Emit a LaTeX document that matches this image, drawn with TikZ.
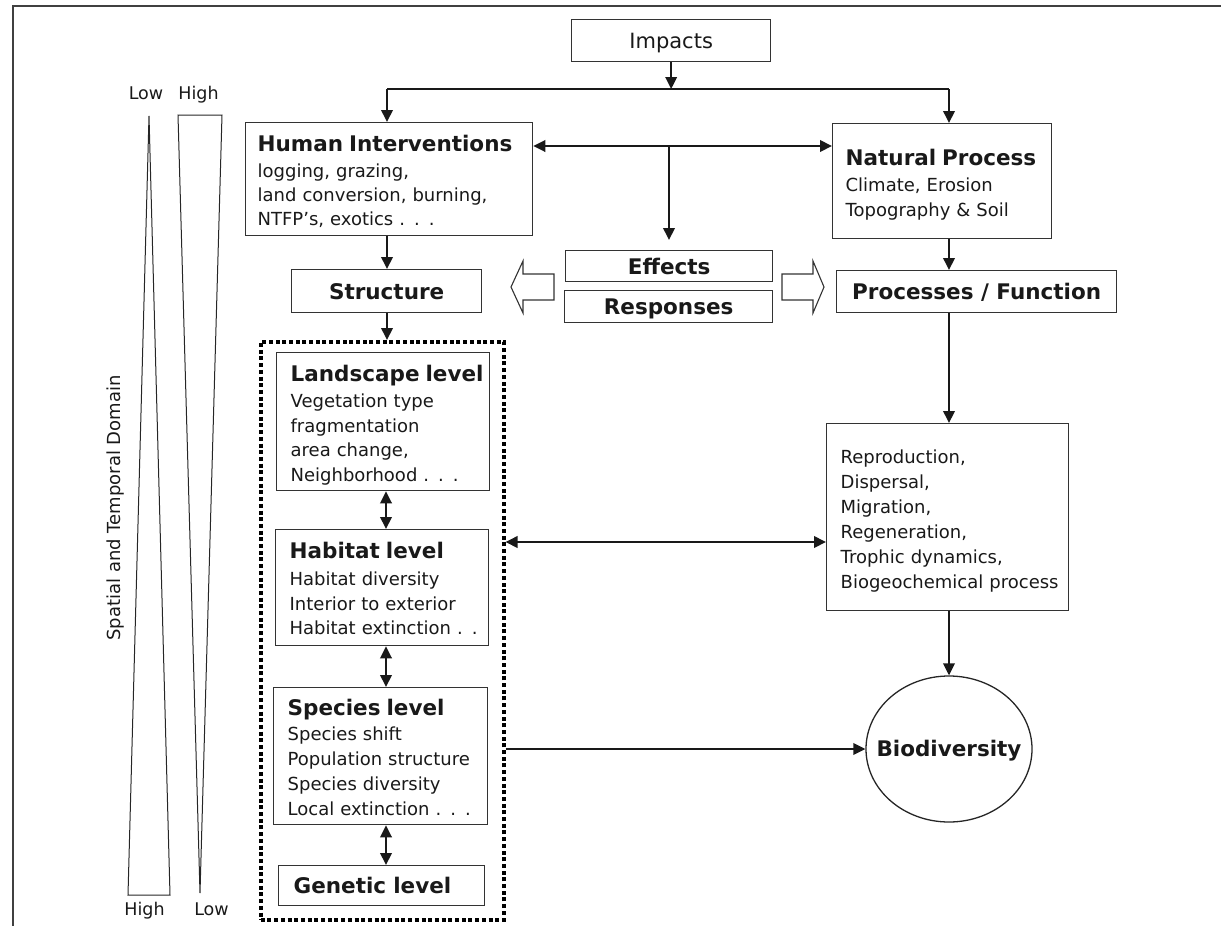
\documentclass[tikz,border=0pt]{standalone}
\usepackage{fontspec}
\setmainfont{DejaVu Sans}
\usetikzlibrary{arrows.meta,shapes.geometric}
\newcommand\ttlf{\fontsize{21.5}{26}\selectfont\bfseries}
\newcommand\bdyf[1]{\fontsize{18}{#1}\selectfont}
\newcommand\repf{\fontsize{18}{25}\selectfont}
\begin{document}
\begin{tikzpicture}[x=1pt,y=-1pt,
  every node/.style={text=black!90},
  box/.style={draw=black!80, line width=1.3pt, rectangle, inner ysep=0pt, anchor=north west},
  mbox/.style={box, align=left},
  sbox/.style={box, inner xsep=0pt, text height=15.7pt, text depth=0pt, font=\ttlf},
  dotbox/.style={draw=black, line width=3.5pt, dash pattern=on 4pt off 2.7pt, rectangle, inner sep=0pt, anchor=north west},
  ln/.style={draw=black!90, line width=2pt},
  arr/.style={ln, -{Triangle[length=12pt,width=11.5pt]}},
  darr/.style={ln, {Triangle[length=12pt,width=11.5pt]}-{Triangle[length=12pt,width=11.5pt]}},
  hollow/.style={draw=black!80, line width=1.1pt, fill=white, line join=miter},
  wedge/.style={draw=black!85, line width=1pt},
  lbl/.style={font=\fontsize{17.5}{20}\selectfont, text height=12.8pt, text depth=0pt, inner sep=0pt},
  frame/.style={draw=black!75, line width=1.5pt}
]
\useasboundingbox (0,0) rectangle (1221,926);
\draw[frame] (1221,6) -- (13,6) -- (13,926);

% left scale
\draw[wedge] (149,116) -- (128,895) -- (170,895) -- cycle;
\draw[wedge] (178,115) -- (222,115) -- (200,893) -- cycle;
\node[lbl] (lowt) at (146,93) {Low};
\node[lbl] (hight) at (198.5,93) {High};
\node[lbl] (highb) at (144.5,909) {High};
\node[lbl] (lowb) at (211.5,909) {Low};
\node[rotate=90, font=\fontsize{18}{20}\selectfont, inner sep=0pt] (dom) at (116,508) {Spatial and Temporal Domain};

% boxes
\node[box, inner xsep=0pt, minimum width=199pt, text height=15.3pt, text depth=0pt,
      font=\fontsize{21}{24}\selectfont, minimum height=42pt] (imp) at (571,19) {Impacts};

\node[mbox, inner xsep=12pt, text width=263pt, text height=29pt, text depth=84pt,
      font=\bdyf{24}] (hum) at (245,122)
  {\mbox{\ttlf Human Interventions}\\[2pt]
   \mbox{logging, grazing,}\\
   \mbox{land conversion, burning,}\\
   \mbox{NTFP’s, exotics . . .}};

\node[mbox, inner xsep=13pt, text width=193pt, text height=42pt, text depth=73pt,
      font=\bdyf{25}] (nat) at (832,123)
  {\mbox{\ttlf Natural Process}\\[1pt]
   \mbox{Climate, Erosion}\\
   \mbox{Topography \& Soil}};

\node[sbox, minimum width=207pt, minimum height=31pt] (eff) at (565,250) {Effects};
\node[sbox, minimum width=208pt, minimum height=32pt] (resp) at (564,290) {Responses};
\node[sbox, minimum width=190pt, minimum height=43pt] (str) at (291,269) {Structure};
\node[sbox, minimum width=280pt, minimum height=42pt] (proc) at (836,270) {Processes / Function};

\node[dotbox, minimum width=243pt, minimum height=578pt] (lev) at (259,340) {};

\node[mbox, inner xsep=14pt, text width=185pt, text height=29pt, text depth=109pt,
      font=\bdyf{24.5}] (land) at (276,352)
  {\mbox{\ttlf Landscape level}\\[1.5pt]
   \mbox{Vegetation type}\\
   \mbox{fragmentation}\\
   \mbox{area change,}\\
   \mbox{Neighborhood . . .}};

\node[mbox, inner xsep=14pt, text width=185pt, text height=29pt, text depth=87pt,
      font=\bdyf{24.5}] (hab) at (275,529)
  {\mbox{\ttlf Habitat level}\\[2.5pt]
   \mbox{Habitat diversity}\\
   \mbox{Interior to exterior}\\
   \mbox{Habitat extinction . .}};

\node[mbox, inner xsep=14pt, text width=186pt, text height=28pt, text depth=109pt,
      font=\bdyf{25}] (spe) at (273,687)
  {\mbox{\ttlf Species level}\\
   \mbox{Species shift}\\
   \mbox{Population structure}\\
   \mbox{Species diversity}\\
   \mbox{Local extinction . . .}};

\node[mbox, inner xsep=15pt, text width=176pt, text height=28pt, text depth=12pt,
      font=\ttlf] (gen) at (278,865) {\mbox{Genetic level}};

\node[mbox, inner xsep=14pt, text width=214pt, text height=40pt, text depth=147pt,
      font=\repf] (rep) at (826,423)
  {\mbox{Reproduction,}\\
   \mbox{Dispersal,}\\
   \mbox{Migration,}\\
   \mbox{Regeneration,}\\
   \mbox{Trophic dynamics,}\\
   \mbox{Biogeochemical process}};

\node[draw=black!85, line width=1.3pt, ellipse, minimum width=166pt, minimum height=146pt,
      inner xsep=-16pt, inner ysep=0pt, font=\ttlf, text height=15.7pt, text depth=0pt] (bio) at (949,749) {Biodiversity};

% block arrows
\draw[hollow] (511,287) -- (523,261) -- (523,274) -- (554,274) -- (554,300) -- (523,300) -- (523,313) -- cycle;
\draw[hollow] (824,287) -- (813,261) -- (813,274) -- (782,274) -- (782,300) -- (813,300) -- (813,313) -- cycle;

% helper coordinates
\coordinate (hl) at (387,89);
\coordinate (hr) at (949,89);
\coordinate (hm) at (669,146);
\coordinate (cx) at (386,0);
\coordinate (hy) at (0,542);

% connectors
\draw[arr] (imp.south) -- (imp.south |- hl);
\draw[ln] (hl) -- (hr);
\draw[arr] (hl) -- (hl |- hum.north);
\draw[arr] (hr) -- (hr |- nat.north);
\draw[darr] (hum.east |- hm) -- (nat.west |- hm);
\draw[arr, shorten >=10pt] (hm) -- (hm |- eff.north);
\draw[arr] (hl |- hum.south) -- (hl |- str.north);
\draw[arr] (hr |- nat.south) -- (hr |- proc.north);
\draw[arr] (hr |- proc.south) -- (hr |- rep.north);
\draw[arr] (hr |- rep.south) -- (bio.north);
\draw[arr] (hl |- str.south) -- (hl |- lev.north);
\draw[darr] (cx |- land.south) -- (cx |- hab.north);
\draw[darr] (cx |- hab.south) -- (cx |- spe.north);
\draw[darr] (cx |- spe.south) -- (cx |- gen.north);
\draw[darr] (lev.east |- hy) -- (rep.west |- hy);
\draw[arr] (lev.east |- bio.west) -- (bio.west);
\end{tikzpicture}
\end{document}
